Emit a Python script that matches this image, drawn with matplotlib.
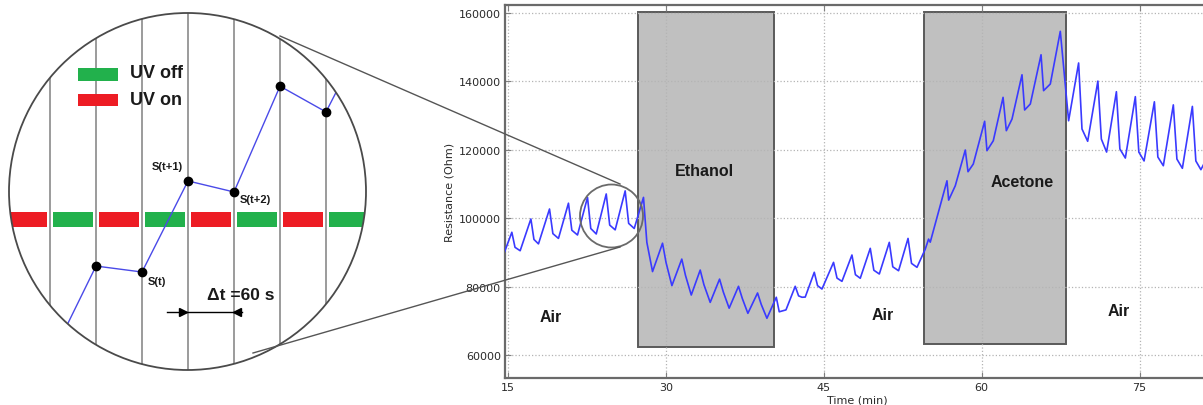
import matplotlib
matplotlib.use('Agg')
import matplotlib.pyplot as plt
from matplotlib.patches import Circle, Rectangle

# ---------------- main chart data ----------------
time_min = [14.65, 15.35, 15.65, 16.14, 17.16, 17.45, 17.88, 18.93, 19.25, 19.78,
            20.73, 21.05, 21.59, 22.54, 22.85, 23.37, 24.32, 24.65, 25.17, 26.12,
            26.45, 26.98, 27.86,
            28.18, 28.72, 29.67, 30.00, 30.56, 31.50, 31.85, 32.40, 33.25, 33.60,
            34.20, 35.09, 35.45, 36.00, 36.89, 37.25, 37.78, 38.70, 39.05, 39.59,
            40.48, 40.76, 41.40,
            42.28, 42.60, 42.92, 43.23, 44.09, 44.40, 44.82, 45.92, 46.25, 46.72,
            47.67, 48.00, 48.46, 49.41, 49.75, 50.27, 51.22, 51.55, 52.10, 53.00,
            53.33, 53.85, 54.64, 54.95, 55.11,
            56.70, 56.86, 57.49, 58.44, 58.70, 59.20, 60.28, 60.50, 61.10, 62.03,
            62.34, 62.88, 63.83, 64.08, 64.62, 65.64, 65.88, 66.52, 67.47, 68.26,
            69.21, 69.53, 70.07, 71.04, 71.37, 71.87, 72.80, 73.13, 73.65, 74.60,
            74.93, 75.43, 76.41, 76.74, 77.26, 78.21, 78.55, 79.07, 80.02, 80.35,
            80.83, 81.35]
resistance_ohm = [90100, 95900, 91500, 90500, 99800, 93800, 92500, 102700, 95500, 94100,
                  104400, 96500, 95100, 106100, 97000, 95400, 107100, 98000, 96600, 108000,
                  98500, 97000, 106100,
                  92950, 84400, 92700, 87100, 80300, 88050, 83300, 77550, 84850, 80600,
                  75400, 82200, 78400, 73700, 80100, 76550, 72200, 78150, 74800, 70750,
                  76900, 72650, 73200,
                  80100, 77300, 76900, 76950, 84200, 80300, 79300, 87100, 82500, 81550,
                  89250, 83500, 82450, 91200, 84800, 83700, 92950, 85800, 84650, 94100,
                  86800, 85650, 91000, 93900, 93000,
                  110950, 105300, 109500, 119950, 113600, 115850, 128350, 119750, 122650, 135350,
                  125600, 129000, 141950, 131650, 133400, 147800, 137300, 139250, 154650, 128500,
                  145400, 126100, 122500, 140100, 123150, 119350, 137000, 120250, 117600, 135550,
                  119350, 116750, 134050, 117900, 115350, 133150, 117300, 114600, 132700, 116750,
                  114200, 117300]

gas_names = ['Ethanol', 'Acetone']
gas_start_min = [27.36, 54.54]
gas_end_min = [40.29, 68.04]
gas_box_low = [62430, 63220]
gas_box_high = [160200, 160200]
gas_label_t = [33.63, 63.86]
gas_label_r = [114100, 110600]

air_label_t = [19.0, 50.55, 72.98]
air_label_r = [71400, 72000, 72900]

x_ticks = [15, 30, 45, 60, 75]
y_ticks = [60000, 80000, 100000, 120000, 140000, 160000]

# ---------------- zoom panel data ----------------
sample_index = [1, 2, 3, 4, 5, 6, 7, 8]
sample_signal = [0.22, 2.26, 2.13, 4.11, 3.87, 6.17, 5.61, 7.56]
sample_label_text = ['S(t)', 'S(t+1)', 'S(t+2)']
sample_label_x = [3.13, 3.22, 5.13]
sample_label_y = [1.93, 4.43, 3.72]
uv_interval_start = [0, 1, 2, 3, 4, 5, 6, 7]
uv_state = ['on', 'off', 'on', 'off', 'on', 'off', 'on', 'off']
grid_steps = [1, 2, 3, 4, 5, 6, 7]

W, H = 1203, 406
fig = plt.figure(figsize=(W / 100, H / 100), dpi=100)
fig.patch.set_facecolor('white')

# ---------------- main axes ----------------
ax = fig.add_axes([505 / W, (H - 379.3) / H, 704 / W, 373.3 / H])
ax.set_xlim(14.7, 81.6)
ax.set_ylim(53200, 162350)

for s, e, lo, hi in zip(gas_start_min, gas_end_min, gas_box_low, gas_box_high):
    ax.add_patch(Rectangle((s, lo), e - s, hi - lo, facecolor='#c0c0c0',
                           edgecolor='#5a5a5a', linewidth=1.4, zorder=1))

ax.plot(time_min, resistance_ohm, color='#3a3aff', linewidth=1.2, zorder=3)

for name, t, r in zip(gas_names, gas_label_t, gas_label_r):
    ax.text(t, r, name, ha='center', va='center', fontsize=11.5,
            fontweight='bold', family='Liberation Sans', color='#1a1a1a', zorder=4)
for t, r in zip(air_label_t, air_label_r):
    ax.text(t, r, 'Air', ha='center', va='center', fontsize=11.5,
            fontweight='bold', family='Liberation Sans', color='#1a1a1a', zorder=4)

ax.set_xticks(x_ticks)
ax.set_yticks(y_ticks)
ax.grid(True, linestyle=':', color='#b4b4b4', linewidth=0.9, zorder=1.5)
ax.tick_params(direction='in', length=4, color='#808080', top=True, right=True,
               labelsize=8, labelcolor='#2a2a2a', pad=3)
for sp in ax.spines.values():
    sp.set_color('#6a6a6a')
    sp.set_linewidth(1.6)
ax.set_ylabel('Resistance (Ohm)', fontsize=8, color='#2a2a2a', labelpad=3)
ax.set_xlabel('Time (min)', fontsize=8, color='#2a2a2a', labelpad=1.5)

# ---------------- zoom panel ----------------
zx0, zy0, zsize = 9, 14, 357
zax = fig.add_axes([zx0 / W, (H - zy0 - zsize) / H, zsize / W, zsize / H])
zax.set_xlim((zx0 - 4) / 46, (zx0 + zsize - 4) / 46)
zax.set_ylim(0, zsize / 46)
zax.axis('off')

clip = Circle((0.5, 0.5), 0.5, transform=zax.transAxes, facecolor='white',
              edgecolor='none', zorder=0)
zax.add_patch(clip)
border = Circle((0.5, 0.5), 0.5, transform=zax.transAxes, fill=False,
                edgecolor='#4a4a4a', linewidth=1.3, zorder=10)
border.set_clip_on(False)
zax.add_patch(border)

for k in grid_steps:
    ln = zax.axvline(k, color='#8a8a8a', linewidth=1.2, zorder=1)
    ln.set_clip_path(clip)

bar_lo, bar_hi = 3.11, 3.43
for k, st in zip(uv_interval_start, uv_state):
    col = '#ed1c24' if st == 'on' else '#22b14c'
    p = Rectangle((k + 0.07, bar_lo), 0.86, bar_hi - bar_lo, facecolor=col,
                  edgecolor='none', zorder=2)
    zax.add_patch(p)
    p.set_clip_path(clip)

line, = zax.plot(sample_index, sample_signal, color='#4a4ae8', linewidth=1.0,
                 marker='o', markersize=6, markerfacecolor='black',
                 markeredgecolor='black', zorder=3)
line.set_clip_path(clip)

for txt, x, y in zip(sample_label_text, sample_label_x, sample_label_y):
    zax.text(x, y, txt, ha='left', va='center', fontsize=8, fontweight='bold',
             family='Liberation Sans', color='#1a1a1a', zorder=5)

# legend
zax.add_patch(Rectangle((1.61, 6.28), 0.87, 0.29, facecolor='#22b14c',
                        edgecolor='none', zorder=5))
zax.add_patch(Rectangle((1.61, 5.74), 0.87, 0.26, facecolor='#ed1c24',
                        edgecolor='none', zorder=5))
zax.text(2.74, 6.46, 'UV off', ha='left', va='center', fontsize=13,
         fontweight='bold', family='Liberation Sans', color='#1a1a1a', zorder=5)
zax.text(2.74, 5.89, 'UV on', ha='left', va='center', fontsize=13,
         fontweight='bold', family='Liberation Sans', color='#1a1a1a', zorder=5)

# delta t annotation
zax.text(4.41, 1.65, '\u0394t =60 s', ha='left', va='center', fontsize=12.5,
         fontweight='bold', family='Liberation Sans', color='#1a1a1a', zorder=5)
zax.plot([3.54, 5.17], [1.26, 1.26], color='black', linewidth=1.0, zorder=5)
zax.plot([3.9], [1.26], marker='>', color='black', markersize=6, zorder=5)
zax.plot([5.06], [1.26], marker='<', color='black', markersize=6, zorder=5)

# ---------------- overlay: magnifier connectors ----------------
oax = fig.add_axes([0, 0, 1, 1])
oax.set_xlim(0, W)
oax.set_ylim(H, 0)
oax.axis('off')
oax.plot([280, 620], [37, 185], color='#555555', linewidth=1.0)
oax.plot([253, 620], [354, 248], color='#555555', linewidth=1.0)
oax.add_patch(Circle((611.5, 217), 31.5, fill=False, edgecolor='#6a6a6a',
                     linewidth=1.3))

fig.savefig('out.png', dpi=100)
